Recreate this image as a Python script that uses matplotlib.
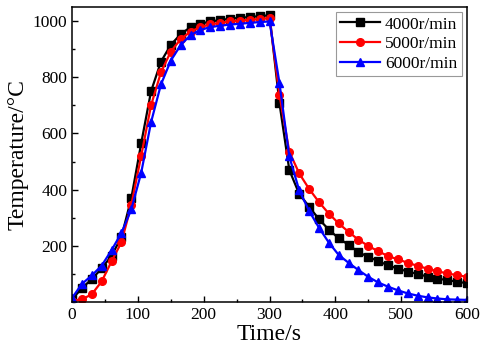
import matplotlib
matplotlib.use("Agg")
import matplotlib.pyplot as plt
from matplotlib.ticker import MultipleLocator

time_s = list(range(0, 601, 15))

temp_4000 = [10, 50, 82, 120, 165, 232, 370, 565, 750, 855, 915, 953, 978, 990,
             998, 1003, 1008, 1011, 1014, 1017, 1020,
             708, 470, 385, 340, 295, 258, 227, 204, 178, 161, 146, 131, 119,
             109, 100, 91, 84, 78, 73, 67]
temp_5000 = [5, 10, 28, 74, 145, 213, 346, 520, 700, 817, 891, 935, 962, 978,
             988, 993, 998, 1001, 1004, 1007, 1010,
             738, 535, 458, 403, 356, 315, 280, 250, 222, 200, 181, 164, 152,
             140, 129, 119, 110, 102, 96, 90]
temp_6000 = [15, 65, 95, 130, 185, 246, 330, 460, 640, 774, 859, 914, 950, 968,
             978, 983, 987, 990, 993, 996, 998,
             780, 518, 398, 325, 265, 212, 168, 140, 114, 90, 70, 55, 42,
             31, 23, 17, 13, 10, 9, 8]

labels = ["4000r/min", "5000r/min", "6000r/min"]
colors = ["black", "red", "blue"]
markers = ["s", "o", "^"]

plt.rcParams['font.family'] = ['Liberation Serif', 'DejaVu Serif']

fig = plt.figure(figsize=(4.87, 3.61), dpi=100)
ax = fig.add_axes([0.148, 0.163, 0.811, 0.818])

for y, lab, c, m in zip([temp_4000, temp_5000, temp_6000], labels, colors, markers):
    ax.plot(time_s, y, color=c, marker=m, markersize=5.5, linewidth=1.6, label=lab)

ax.set_xlim(0, 600)
ax.set_ylim(0, 1050)
ax.set_xticks([0, 100, 200, 300, 400, 500, 600])
ax.set_yticks([200, 400, 600, 800, 1000])
ax.xaxis.set_minor_locator(MultipleLocator(50))
ax.yaxis.set_minor_locator(MultipleLocator(100))
ax.tick_params(which='both', direction='in', top=False, right=False, labelsize=12.5)
ax.tick_params(which='major', length=4, width=1)
ax.tick_params(which='minor', length=2.5, width=1)
for s in ax.spines.values():
    s.set_linewidth(1.1)

ax.set_xlabel("Time/s", fontsize=17, labelpad=1)
ax.set_ylabel("Temperature/°C", fontsize=17, labelpad=3)

leg = ax.legend(loc='upper right', fontsize=12.5, frameon=True, fancybox=False,
                edgecolor='gray', handlelength=2.3, borderpad=0.25,
                labelspacing=0.2, handletextpad=0.3, borderaxespad=0.3)
leg.get_frame().set_linewidth(0.8)

fig.savefig("out.png", dpi=100)
